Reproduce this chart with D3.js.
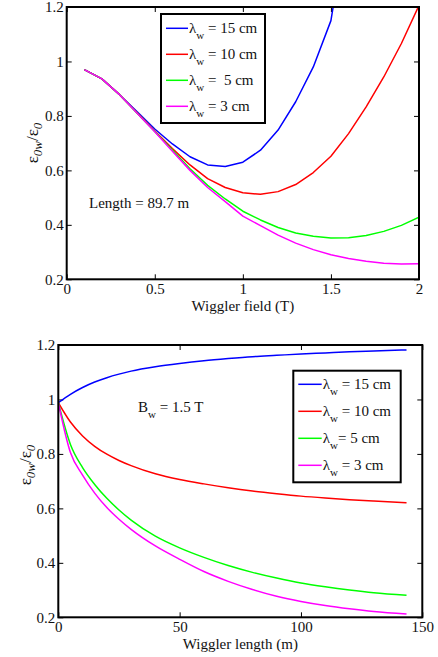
<!DOCTYPE html>
<html>
<head>
<meta charset="utf-8">
<script src="https://cdn.jsdelivr.net/npm/d3@7"></script>
<style>
  body { margin: 0; background: #fff; }
  svg { display: block; }
  svg text { font-family: "Liberation Serif", "Times New Roman", Times, serif !important; white-space: pre; }
</style>
</head>
<body>
<svg id="chart" width="438" height="657"></svg>
<script>
// top panel: emittance ratio vs wiggler field, length 89.7 m
var fieldT = [0.1, 0.2, 0.3, 0.4, 0.5, 0.6, 0.7, 0.8, 0.9, 1.0, 1.1, 1.2, 1.3, 1.4, 1.5, 1.6, 1.7, 1.8, 1.9, 2.0];
var field15 = [0.970, 0.936, 0.878, 0.815, 0.752, 0.697, 0.650, 0.620, 0.614, 0.630, 0.674, 0.748, 0.852, 0.980, 1.150, 1.550];
var field10 = [0.970, 0.936, 0.878, 0.812, 0.745, 0.680, 0.620, 0.570, 0.537, 0.518, 0.512, 0.522, 0.548, 0.592, 0.652, 0.735, 0.833, 0.943, 1.066, 1.206];
var field5 = [0.970, 0.936, 0.878, 0.810, 0.743, 0.675, 0.606, 0.545, 0.495, 0.450, 0.418, 0.390, 0.370, 0.358, 0.352, 0.353, 0.361, 0.376, 0.398, 0.428];
var field3 = [0.970, 0.936, 0.878, 0.810, 0.742, 0.670, 0.600, 0.537, 0.485, 0.432, 0.397, 0.362, 0.333, 0.309, 0.290, 0.276, 0.266, 0.259, 0.256, 0.257];

// bottom panel: emittance ratio vs wiggler length, B = 1.5 T
var lengthM = [0, 5, 10, 15, 20, 25, 30, 40, 50, 60, 70, 80, 90, 100, 110, 120, 130, 143.5];
var length15 = [0.988, 1.019, 1.044, 1.064, 1.080, 1.093, 1.104, 1.120, 1.132, 1.142, 1.150, 1.157, 1.162, 1.167, 1.171, 1.175, 1.178, 1.182];
var length10 = [0.988, 0.917, 0.866, 0.828, 0.799, 0.776, 0.757, 0.727, 0.706, 0.690, 0.676, 0.664, 0.654, 0.645, 0.638, 0.632, 0.627, 0.621];
var length5 = [0.988, 0.835, 0.750, 0.688, 0.637, 0.594, 0.557, 0.498, 0.455, 0.420, 0.390, 0.365, 0.344, 0.326, 0.312, 0.300, 0.290, 0.281];
var length3 = [0.988, 0.805, 0.722, 0.656, 0.603, 0.560, 0.523, 0.462, 0.413, 0.368, 0.332, 0.302, 0.277, 0.258, 0.243, 0.231, 0.221, 0.212];

var waveLabels = [" = 15 cm", " = 10 cm", " =  5 cm", " = 3 cm"];
var waveLabels2 = [" = 15 cm", " = 10 cm", "= 5 cm", " = 3 cm"];
var colors = ["#0000ff", "#ff0000", "#00ff00", "#ff00ff"];
var yTicks = [0.2, 0.4, 0.6, 0.8, 1, 1.2];

var svg = d3.select("#chart");

function drawPanel(opt) {
    var x = d3.scaleLinear().domain(opt.xDomain).range([opt.left, opt.right]);
    var y = d3.scaleLinear().domain([0.2, 1.2]).range([opt.bottom, opt.top]);
    var g = svg.append("g");
    var id = "clip" + opt.name;

    g.append("clipPath").attr("id", id).append("rect")
        .attr("x", opt.left).attr("y", opt.top)
        .attr("width", opt.right - opt.left).attr("height", opt.bottom - opt.top);

    // ticks on all four sides, pointing in
    var fmt = function(d){ return String(+d.toFixed(1)); };
    g.append("g").attr("transform", "translate(0," + opt.bottom + ")")
        .call(d3.axisBottom(x).tickValues(opt.xTicks).tickSize(-5).tickPadding(4).tickFormat(fmt));
    g.append("g").attr("transform", "translate(0," + opt.top + ")")
        .call(d3.axisTop(x).tickValues(opt.xTicks).tickSize(-5).tickFormat(""));
    g.append("g").attr("transform", "translate(" + opt.left + ",0)")
        .call(d3.axisLeft(y).tickValues(yTicks).tickSize(-5).tickPadding(3).tickFormat(fmt));
    g.append("g").attr("transform", "translate(" + opt.right + ",0)")
        .call(d3.axisRight(y).tickValues(yTicks).tickSize(-5).tickFormat(""));
    g.selectAll(".domain").remove();
    g.selectAll(".tick line").attr("stroke", "#000").attr("stroke-width", 1);
    g.selectAll(".tick text").attr("font-size", 15).attr("fill", "#111");

    var line = d3.line()
        .x(function(d){ return x(d[0]); })
        .y(function(d){ return y(d[1]); })
        .curve(opt.curve);

    opt.series.forEach(function(vals, i) {
        var pts = vals.map(function(v, j){ return [opt.xs[j], v]; });
        g.append("path")
            .attr("clip-path", "url(#" + id + ")")
            .attr("d", line(pts))
            .attr("fill", "none")
            .attr("stroke", colors[i])
            .attr("stroke-width", 1.5)
            .attr("stroke-linejoin", "round");
    });

    g.append("rect")
        .attr("x", opt.left).attr("y", opt.top)
        .attr("width", opt.right - opt.left).attr("height", opt.bottom - opt.top)
        .attr("fill", "none").attr("stroke", "#000").attr("stroke-width", 2);

    // axis labels
    g.append("text")
        .attr("x", (opt.left + opt.right) / 2).attr("y", opt.bottom + 31.5)
        .attr("text-anchor", "middle").attr("font-size", 15).attr("fill", "#111")
        .text(opt.xLabel);

    var yl = g.append("text")
        .attr("transform", "translate(" + opt.yLabelX + "," + opt.yLabelY + ") rotate(-90)")
        .attr("text-anchor", "middle").attr("font-size", 17).attr("fill", "#111");
    yl.append("tspan").text("ε");
    yl.append("tspan").attr("font-size", 13).attr("font-style", "italic").attr("dy", 4).text("0w");
    yl.append("tspan").attr("dy", -4).text("/ε");
    yl.append("tspan").attr("font-size", 13).attr("font-style", "italic").attr("dy", 4).text("0");

    // legend
    var lg = opt.legend;
    g.append("rect")
        .attr("x", lg.x).attr("y", lg.y).attr("width", lg.w).attr("height", lg.h)
        .attr("fill", "#fff").attr("stroke", "#000").attr("stroke-width", 2);
    opt.labels.forEach(function(lab, i) {
        var ly = lg.firstRow + i * lg.step;
        g.append("line")
            .attr("x1", lg.lineX0).attr("x2", lg.lineX1)
            .attr("y1", ly).attr("y2", ly)
            .attr("stroke", colors[i]).attr("stroke-width", 1.5);
        var t = g.append("text").attr("x", lg.lineX1 + 1).attr("y", ly + 4.5)
            .attr("font-size", 15).attr("fill", "#111");
        t.append("tspan").text("λ");
        t.append("tspan").attr("font-size", 11).attr("dy", 6).text("w");
        t.append("tspan").attr("dy", -6).text(lab);
    });

    return g;
}

var topPanel = drawPanel({
    name: "top", left: 66.7, right: 419, top: 7, bottom: 279.3,
    xDomain: [0, 2], xTicks: [0, 0.5, 1, 1.5, 2],
    xs: fieldT, series: [field15, field10, field5, field3],
    curve: d3.curveLinear,
    xLabel: "Wiggler field (T)", yLabelX: 38, yLabelY: 143,
    labels: waveLabels,
    legend: { x: 161, y: 14, w: 104, h: 109, firstRow: 28.3, step: 26, lineX0: 166, lineX1: 188 }
});
topPanel.append("text").attr("x", 89).attr("y", 208)
    .attr("font-size", 15).attr("fill", "#111").text("Length = 89.7 m");

var botPanel = drawPanel({
    name: "bot", left: 58.3, right: 422.3, top: 345, bottom: 617.3,
    xDomain: [0, 150], xTicks: [0, 50, 100, 150],
    xs: lengthM, series: [length15, length10, length5, length3],
    curve: d3.curveMonotoneX,
    xLabel: "Wiggler length (m)", yLabelX: 31, yLabelY: 465,
    labels: waveLabels2,
    legend: { x: 293.3, y: 370.7, w: 107.4, h: 111.6, firstRow: 384.3, step: 27, lineX0: 298.3, lineX1: 321.7 }
});
var bt = botPanel.append("text").attr("x", 138).attr("y", 412)
    .attr("font-size", 15).attr("fill", "#111");
bt.append("tspan").text("B");
bt.append("tspan").attr("font-size", 11).attr("dy", 6).text("w");
bt.append("tspan").attr("dy", -6).text(" = 1.5 T");
</script>
</body>
</html>
